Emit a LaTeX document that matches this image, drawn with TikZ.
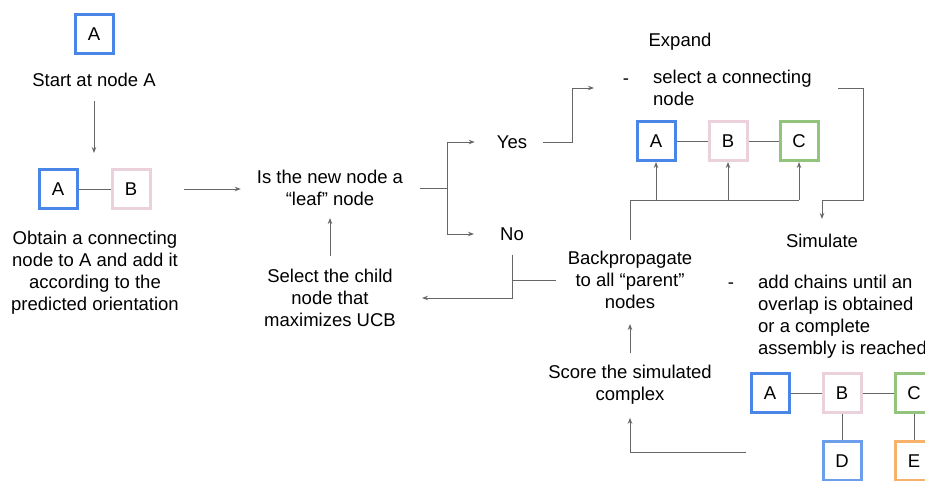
\documentclass[tikz,border=0pt]{standalone}
\usepackage{fontspec}
\setmainfont{Liberation Sans}
\usetikzlibrary{arrows.meta}
\definecolor{cblue}{HTML}{4A86E8}
\definecolor{cblueb}{HTML}{6D9EEB}
\definecolor{cpink}{HTML}{EAD1DC}
\definecolor{cgreen}{HTML}{93C47D}
\definecolor{corange}{HTML}{F6B26B}
\definecolor{cline}{HTML}{666666}
\begin{document}
\begin{tikzpicture}[x=1pt,y=-1pt,
 txt/.style={font=\fontsize{18.5}{22}\selectfont, align=center, inner sep=0pt},
 box/.style={draw, line width=3pt, minimum width=38pt, minimum height=39pt, inner sep=0pt, font=\fontsize{18.5}{22}\selectfont, fill=white},
 link/.style={draw=cline, line width=1pt},
 arr/.style={draw=cline, line width=1pt, -{Stealth[length=6pt,width=4.5pt]}}]
\useasboundingbox (0,0) rectangle (925,480);
% left column
\node[box,draw=cblue] (a0) at (94,34) {A};
\node[txt] (start) at (94,80) {Start at node A};
\node[box,draw=cblue] (a1) at (58,189) {A};
\node[box,draw=cpink] (b1) at (131,189) {B};
\node[txt] (obtain) at (95,273) {Obtain a connecting\\node to A and add it\\according to the\\predicted orientation};
% middle
\node[txt] (leaf) at (330,188) {Is the new node a\\“leaf” node};
\node[txt] (yes) at (512,142) {Yes};
\node[txt] (no) at (512,234) {No};
\node[txt] (select) at (330,298) {Select the child\\node that\\maximizes UCB};
% expand
\node[txt] (expand) at (680,42) {Expand};
\node[txt] (dash1) at (626,82) {-};
\node[txt,align=left,anchor=west] (seltxt) at (653,88) {select a connecting\\node};
\node[box,draw=cblue] (a2) at (656,141) {A};
\node[box,draw=cpink] (b2) at (728,141) {B};
\node[box,draw=cgreen] (c2) at (799,141) {C};
% simulate
\node[txt] (simulate) at (822,241) {Simulate};
\node[txt] (back) at (630,280) {Backpropagate\\to all “parent”\\nodes};
\node[txt] (dash2) at (731,286) {-};
\node[txt,align=left,anchor=west] (addtxt) at (758,317) {add chains until an\\overlap is obtained\\or a complete\\assembly is reached};
\node[txt] (score) at (630,385) {Score the simulated\\complex};
\node[box,draw=cblue] (a3) at (770,393) {A};
\node[box,draw=cpink] (b3) at (842,393) {B};
\node[box,draw=cgreen] (c3) at (914,393) {C};
\node[box,draw=cblueb] (d3) at (842,461) {D};
\node[box,draw=corange] (e3) at (914,461) {E};
% coordinates
\coordinate (split) at (447,188);
\coordinate (expin) at (594,88);
\coordinate (expout) at (838,88);
\coordinate (bus) at (630,200);
\coordinate (rt) at (863,200);
\coordinate (simout) at (746,452);
% links
\draw[link] (a1) -- (b1);
\draw[link] (a2) -- (b2);
\draw[link] (b2) -- (c2);
\draw[link] (a3) -- (b3);
\draw[link] (b3) -- (c3);
\draw[link] (b3) -- (d3);
\draw[link] (c3) -- (e3);
% arrows
\draw[arr, shorten <=14pt, shorten >=15pt] (start.south) -- (start.south |- a1.north);
\draw[arr, shorten <=32pt, shorten >=16pt] (b1.east) -- (b1.east -| leaf.west);
\draw[link, shorten <=17pt] (leaf.east) -- (split);
\draw[arr] (split) |- ([xshift=-22pt]yes.west);
\draw[arr] (split) |- ([xshift=-26pt]no.west);
\draw[arr] ([xshift=16pt]yes.east) -| ([xshift=-22pt]expin) -- (expin);
\draw[link, shorten <=11pt] (back.north) -- (bus) -- (c2 |- bus);
\draw[arr] (a2 |- bus) -- (a2.south);
\draw[arr] (b2 |- bus) -- (b2.south);
\draw[arr] (c2 |- bus) -- (c2.south);
\draw[arr, shorten >=15pt] (expout) -| (rt) -| (simulate.north);
\draw[arr, shorten <=14pt] (no.south) |- ([xshift=26pt]select.east);
\draw[link, shorten <=12pt] (back.west) -- (back.west -| no.south);
\draw[arr, shorten <=13pt, shorten >=12pt] (select.north) -- (leaf.south);
\draw[arr, shorten <=12pt, shorten >=15pt] (score.north) -- (back.south);
\draw[arr, shorten >=13pt] (simout) -| (score.south);
\end{tikzpicture}
\end{document}
